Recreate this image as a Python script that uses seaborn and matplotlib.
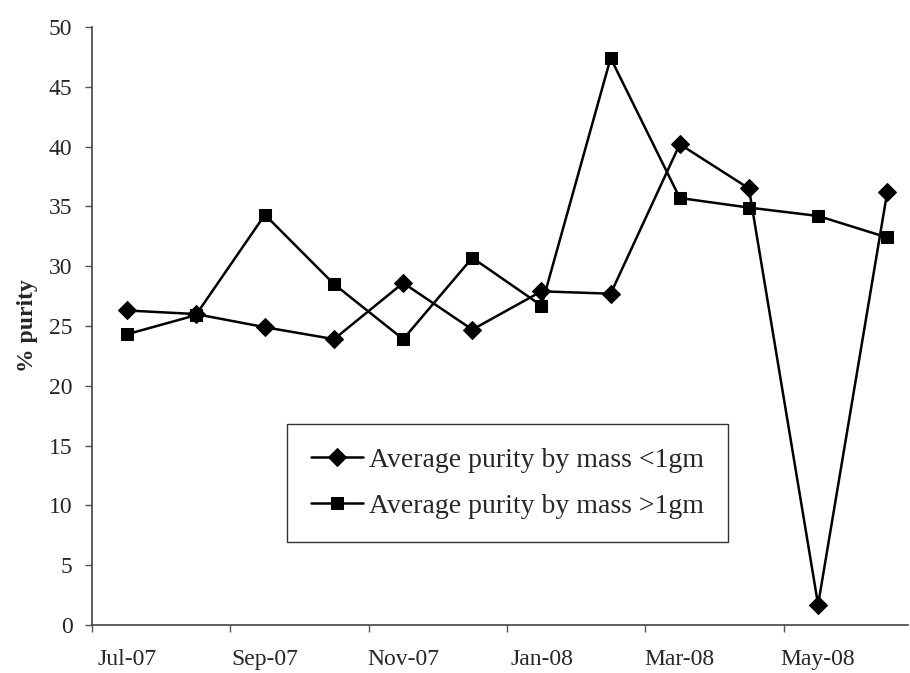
import matplotlib
matplotlib.use("Agg")
import matplotlib.pyplot as plt
import seaborn as sns
import pandas as pd
import numpy as np

months = ["Jul-07", "Aug-07", "Sep-07", "Oct-07", "Nov-07", "Dec-07",
          "Jan-08", "Feb-08", "Mar-08", "Apr-08", "May-08", "Jun-08"]
purity_lt1 = [26.3, 26.0, 24.9, 23.9, 28.6, 24.7, 27.9, 27.7, 40.2, 36.5, 1.7, 36.2]
purity_gt1 = [24.3, 25.9, 34.3, 28.5, 23.9, 30.7, 26.7, 47.4, 35.7, 34.9, 34.2, 32.4]
series_names = ["Average purity by mass <1gm", "Average purity by mass >1gm"]
yticks = [0, 5, 10, 15, 20, 25, 30, 35, 40, 45, 50]

sns.set_theme(style="white")
plt.rcParams['font.family'] = ['Liberation Serif', 'DejaVu Serif']

idx = np.arange(len(months))
df = pd.DataFrame({
    "x": np.concatenate([idx, idx]),
    "purity": purity_lt1 + purity_gt1,
    "series": [series_names[0]] * len(months) + [series_names[1]] * len(months),
})

fig = plt.figure(figsize=(9.1, 6.73), dpi=100)
ax = fig.add_axes([0.1011, 0.0713, 0.8967, 0.8886])

sns.lineplot(data=df, x="x", y="purity", hue="series", style="series",
             markers={series_names[0]: "D", series_names[1]: "s"},
             dashes=False, palette=["black", "black"], linewidth=1.8,
             markersize=9, markeredgecolor="black", ax=ax)

ax.set_xlim(-0.5, 11.3)
ax.set_ylim(0, 50)
ax.set_yticks(yticks)
ax.set_yticklabels([str(v) for v in yticks], fontsize=17)

ax.set_xticks(np.arange(-0.5, 11, 2))
ax.set_xticklabels([])
ax.set_xticks(idx[::2], minor=True)
ax.set_xticklabels([months[i] for i in idx[::2]], minor=True, fontsize=17)
ax.tick_params(axis="x", which="minor", length=0, pad=17)
ax.tick_params(axis="x", which="major", direction="out", length=5, width=1, color="#555555", bottom=True)
ax.tick_params(axis="y", direction="out", length=5, width=1, color="#555555", left=True, pad=9)

ax.set_xlabel("")
ax.set_ylabel("% purity", fontsize=17, fontweight="bold", labelpad=8)

for s in ["top", "right"]:
    ax.spines[s].set_visible(False)
for s in ["left", "bottom"]:
    ax.spines[s].set_color("#444444")
    ax.spines[s].set_linewidth(1.2)

handles, labels = ax.get_legend_handles_labels()
leg = ax.legend(handles, labels, loc="lower left", bbox_to_anchor=(0.239, 0.138),
                borderaxespad=0, fontsize=20, frameon=True, fancybox=False,
                edgecolor="black", handlelength=1.9, handletextpad=0.2,
                labelspacing=0.75, borderpad=0.85)
leg.get_frame().set_linewidth(1.0)

fig.savefig("out.png", dpi=100, facecolor="white")
